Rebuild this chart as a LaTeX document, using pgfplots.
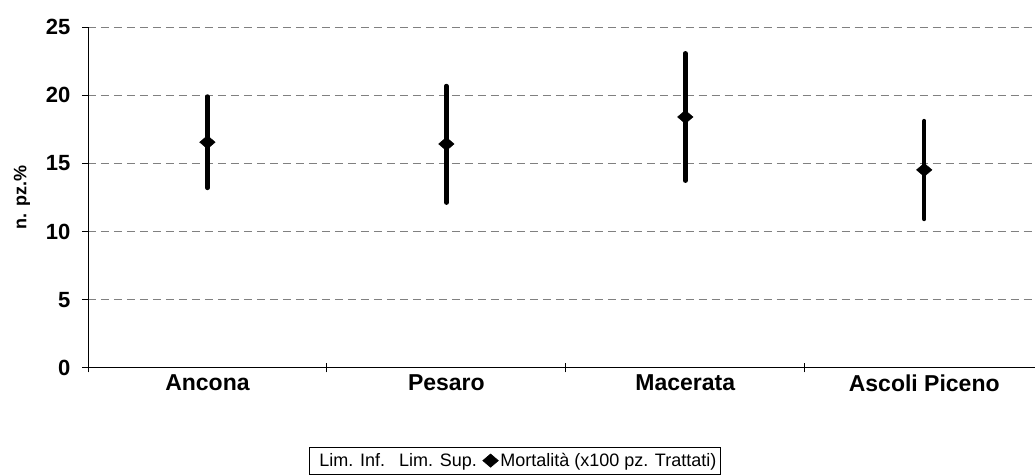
\documentclass[border=0pt]{standalone}
\usepackage{pgfplots}
\pgfplotsset{compat=1.18}
\usepackage{pgfplotstable}
\usepackage{fontspec}
\setmainfont{Liberation Sans}

\pgfplotstableread{
x y ep em
0.5 16.55 3.35 3.35
1.5 16.42 4.25 4.30
2.5 18.40 4.67 4.67
3.5 14.52 3.58 3.60
}\mortalita

\begin{document}
\begin{tikzpicture}
\begin{axis}[
  scale only axis,
  width=947pt, height=341pt,
  at={(0pt,0pt)}, anchor=south west,
  xmin=0, xmax=3.962,
  ymin=0, ymax=25,
  axis x line=bottom, axis y line=left,
  axis line style={-, black, line width=0.8pt},
  ytick={0,5,10,15,20,25},
  ymajorgrids,
  grid style={gray, dash pattern=on 8pt off 5pt, line width=0.8pt},
  y tick label style={font=\fontsize{22}{24}\selectfont\bfseries, xshift=-8pt},
  /pgf/number format/assume math mode=true,
  ytick style={black, line width=0.8pt},
  tick align=outside,
  major tick length=6pt,
  xtick={0.5,1.5,2.5,3.5},
  xticklabels={Ancona,Pesaro,Macerata,Ascoli Piceno},
  x tick label style={font=\fontsize{23}{25}\selectfont\bfseries, anchor=center, yshift=-9pt},
  x tick style={draw=none},
  extra x ticks={0,1,2,3},
  extra x tick labels={},
  extra x tick style={major tick length=9pt, tick align=center, x tick style={draw=black, line width=0.8pt}},
  ylabel={n. pz.\%},
  every axis y label/.style={at={(axis description cs:-0.0697,0.5)}, rotate=90, anchor=center,
    font=\fontsize{18}{20}\selectfont\bfseries},
  legend style={at={(axis description cs:0.451,-0.232)}, anchor=north,
    draw=black, line width=0.6pt, font=\fontsize{18}{20}\selectfont,
    legend columns=-1, inner xsep=2pt, inner ysep=4pt,
    /tikz/every even column/.append style={column sep=4pt}},
  legend cell align=left,
  clip=false,
]
\addlegendimage{draw=none, legend image code/.code={\path[draw=none] (0pt,0pt) -- (6pt,0pt);}}
\addlegendentry{Lim. Inf.}
\addlegendimage{draw=none, legend image code/.code={\path[draw=none] (0pt,0pt) -- (6pt,0pt);}}
\addlegendentry{Lim. Sup.}
\addplot[black, only marks, mark=square*, mark size=5.5pt,
  mark options={yscale=0.85, rotate=45},
  error bars/.cd, y dir=both, y explicit,
  error mark=none,
  error bar style={line width=4.5pt, line cap=round, black}]
  table[x=x, y=y, y error plus=ep, y error minus=em]{\mortalita};
\addlegendentry{Mortalità (x100 pz. Trattati)}
\end{axis}
\path[use as bounding box] (-88pt,-107pt) rectangle (947pt,368pt);
\end{tikzpicture}
\end{document}
